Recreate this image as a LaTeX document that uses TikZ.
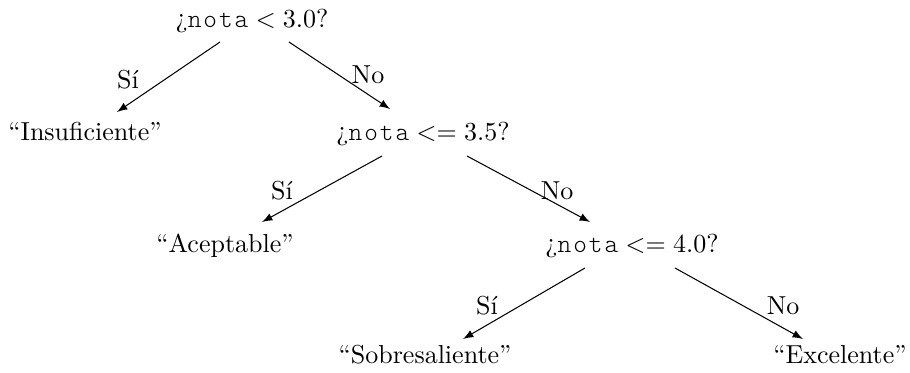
\documentclass[tikz,border=0pt]{standalone}
\usepackage{fontspec}
\usepackage{amsmath}
\newfontfamily\notamono[LetterSpace=7.5]{Latin Modern Mono Light}
\usetikzlibrary{calc,arrows}
\newcommand{\nt}{\text{\notamono nota}}
\begin{document}
\begin{tikzpicture}[x=0.3846pt,y=-0.3846pt,
  txt/.style={anchor=base,inner sep=0pt},
  lbl/.style={anchor=center,inner sep=0pt},
  arr/.style={-latex,line width=0.4pt}]
\useasboundingbox (0,0) rectangle (910,373);
\node[txt] (root) at (252,27) {¿$\nt < 3.0$?};
\node[txt] (insuf) at (85,140) {``Insuficiente''};
\node[txt] (n35) at (423,140) {¿$\nt <= 3.5$?};
\node[txt] (acep) at (225,252) {``Aceptable''};
\node[txt] (n40) at (632,252) {¿$\nt <= 4.0$?};
\node[txt] (sobre) at (425,363) {``Sobresaliente''};
\node[txt] (exc) at (840,363) {``Excelente''};
\node[lbl] (si1) at (128,80) {Sí};
\node[lbl] (no1) at (368,75) {No};
\node[lbl] (si2) at (282,191) {Sí};
\node[lbl] (no2) at (557,191) {No};
\node[lbl] (si3) at (487,306) {Sí};
\node[lbl] (no3) at (783,306) {No};
\draw[arr] ($(root.base)+(-32,15)$) -- ($(insuf.base)+(32,-28)$);
\draw[arr] ($(root.base)+(37,15)$) -- ($(n35.base)+(-33,-31)$);
\draw[arr] ($(n35.base)+(-41,16)$) -- ($(acep.base)+(37,-30)$);
\draw[arr] ($(n35.base)+(44,16)$) -- ($(n40.base)+(-42,-30)$);
\draw[arr] ($(n40.base)+(-47,16)$) -- ($(sobre.base)+(38,-24)$);
\draw[arr] ($(n40.base)+(43,16)$) -- ($(exc.base)+(-37,-24)$);
\end{tikzpicture}
\end{document}
